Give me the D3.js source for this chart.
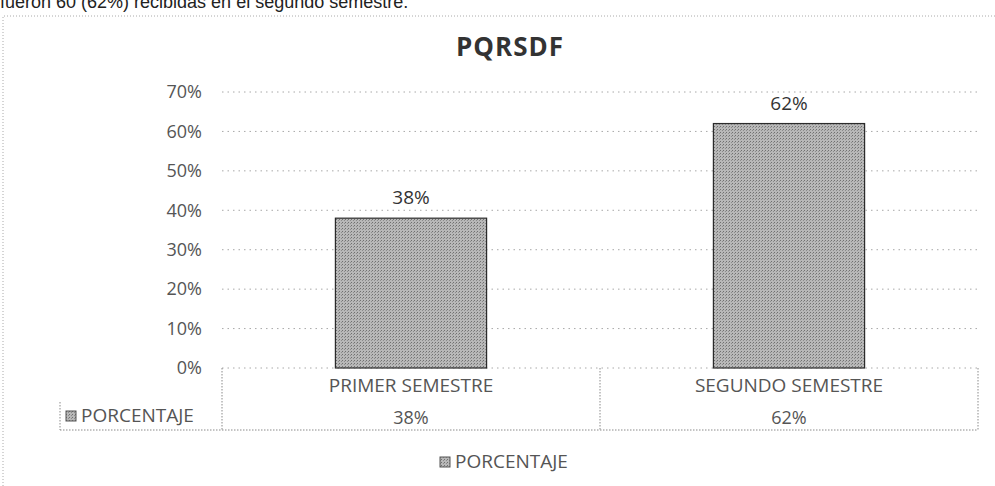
<!DOCTYPE html>
<html>
<head>
<meta charset="utf-8">
<script src="https://cdn.jsdelivr.net/npm/d3@7"></script>
<style>
  body { margin: 0; background: #fff; }
  svg text { font-family: "Open Sans", Lato, sans-serif; }
</style>
</head>
<body>
<svg id="chart" width="995" height="486"></svg>
<script>
const title = 'PQRSDF';
const introText = 'fueron 60 (62%) recibidas en el segundo semestre.';
const seriesName = 'PORCENTAJE';
const categories = ['PRIMER SEMESTRE', 'SEGUNDO SEMESTRE'];
const values = [38, 62];
const yTicks = [0, 10, 20, 30, 40, 50, 60, 70];

const svg = d3.select('#chart');
const grey = '#555';

// clipped paragraph line at the top of the scanned page
svg.append('text')
  .attr('x', 0)
  .attr('y', 8)
  .style('font-family', 'Arial, "Liberation Sans", sans-serif')
  .style('font-size', '18px')
  .attr('fill', '#222')
  .text(introText);

// chart area border (dotted)
svg.append('path')
  .attr('d', 'M3,486 V16 H995')
  .attr('fill', 'none')
  .attr('stroke', '#aaa')
  .attr('stroke-dasharray', '1,2');

svg.append('text')
  .attr('x', 510)
  .attr('y', 56)
  .attr('text-anchor', 'middle')
  .style('font-size', '26px')
  .style('font-weight', 'bold')
  .style('letter-spacing', '1px')
  .attr('fill', '#333')
  .text(title);

const x = d3.scaleBand().domain(categories).range([222, 978]);
const y = d3.scaleLinear().domain([0, 70]).range([368, 92]);
const barW = x.bandwidth() * 0.4;

// gridlines
svg.append('g')
  .selectAll('line')
  .data(yTicks)
  .join('line')
  .attr('x1', 222)
  .attr('x2', 978)
  .attr('y1', d => y(d))
  .attr('y2', d => y(d))
  .attr('stroke', '#a8a8a8')
  .attr('stroke-dasharray', '1.5,4');

// y axis labels
const yAxis = svg.append('g')
  .attr('transform', 'translate(206,0)')
  .call(d3.axisLeft(y).tickValues(yTicks).tickSize(0).tickPadding(4).tickFormat(d => d + '%'));
yAxis.select('.domain').remove();
yAxis.selectAll('text')
  .attr('fill', grey)
  .style('font-size', '18px')
  .style('font-family', '"Open Sans", sans-serif');

// halftone-ish fill for the bars
const defs = svg.append('defs');
const pat = defs.append('pattern')
  .attr('id', 'dots')
  .attr('width', 3)
  .attr('height', 3)
  .attr('patternUnits', 'userSpaceOnUse');
pat.append('rect').attr('width', 3).attr('height', 3).attr('fill', '#b8b8b8');
pat.append('rect').attr('width', 1).attr('height', 1).attr('fill', '#707070');
pat.append('rect').attr('x', 2).attr('y', 1).attr('width', 1).attr('height', 1).attr('fill', '#8c8c8c');

svg.append('g')
  .selectAll('rect')
  .data(values)
  .join('rect')
  .attr('x', (d, i) => x(categories[i]) + (x.bandwidth() - barW) / 2)
  .attr('width', barW)
  .attr('y', d => y(d))
  .attr('height', d => y(0) - y(d))
  .attr('fill', 'url(#dots)')
  .attr('stroke', '#2b2b2b')
  .attr('stroke-width', 1.2);

// data labels
svg.append('g')
  .selectAll('text')
  .data(values)
  .join('text')
  .attr('x', (d, i) => x(categories[i]) + x.bandwidth() / 2)
  .attr('y', d => y(d) - 14)
  .attr('text-anchor', 'middle')
  .attr('fill', '#333')
  .style('font-size', '19px')
  .text(d => d + '%');

// data table under the axis
const table = svg.append('g')
  .attr('fill', 'none')
  .attr('stroke', '#8a8a8a')
  .attr('stroke-dasharray', '1.5,1.5');
table.append('line').attr('x1', 60).attr('x2', 978).attr('y1', 430).attr('y2', 430);
table.selectAll('.col')
  .data([222, 600, 978])
  .join('line')
  .attr('class', 'col')
  .attr('x1', d => d).attr('x2', d => d)
  .attr('y1', y(0)).attr('y2', 430);
table.append('line').attr('x1', 60).attr('x2', 60).attr('y1', 402).attr('y2', 430);

svg.append('g')
  .selectAll('text')
  .data(categories)
  .join('text')
  .attr('x', d => x(d) + x.bandwidth() / 2)
  .attr('y', 392)
  .attr('text-anchor', 'middle')
  .attr('fill', grey)
  .style('font-size', '19px')
  .text(d => d);

svg.append('g')
  .selectAll('text')
  .data(values)
  .join('text')
  .attr('x', (d, i) => x(categories[i]) + x.bandwidth() / 2)
  .attr('y', 424)
  .attr('text-anchor', 'middle')
  .attr('fill', grey)
  .style('font-size', '18px')
  .text(d => d + '%');

// legend key swatches: table row header and bottom legend
function keyLabel(g, cx, cy, size) {
  g.append('rect')
    .attr('x', cx).attr('y', cy - 6)
    .attr('width', 10).attr('height', 10)
    .attr('fill', 'url(#dots)')
    .attr('stroke', '#555');
  g.append('text')
    .attr('x', cx + 15).attr('y', cy + 5)
    .attr('fill', grey)
    .style('font-size', size)
    .text(seriesName);
}
keyLabel(svg.append('g'), 66, 417, '19px');
keyLabel(svg.append('g'), 440, 463, '19px');
</script>
</body>
</html>
